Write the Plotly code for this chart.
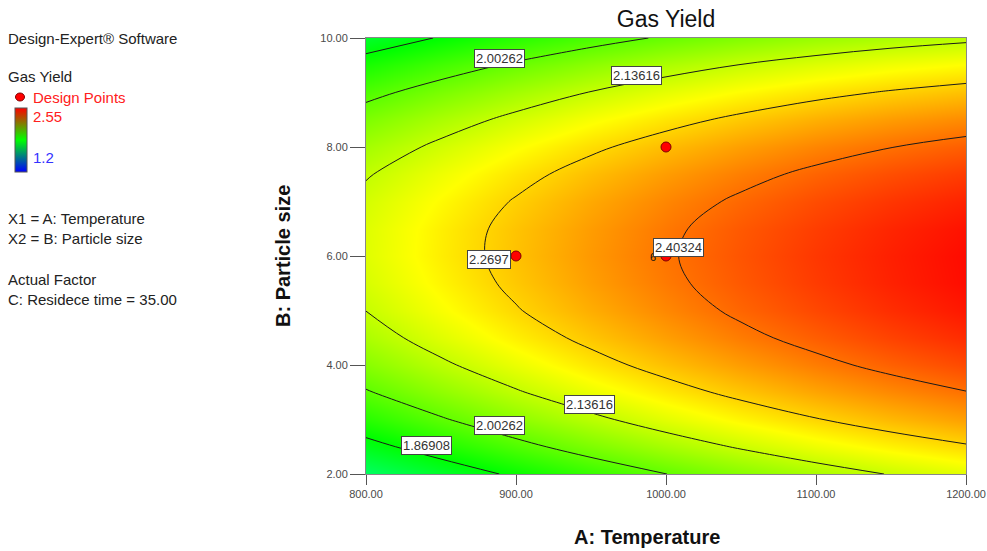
import plotly.graph_objects as go

# ---------------- data ----------------
temperature = [800, 850, 900, 950, 1000, 1050, 1100, 1150, 1200]
particle_size = [2.0, 2.5, 3.0, 3.5, 4.0, 4.5, 5.0, 5.5, 6.0, 6.5, 7.0, 7.5, 8.0, 8.5, 9.0, 9.5, 10.0]
gas_yield = [
    [1.745, 1.817, 1.884, 1.946, 2.002, 2.053, 2.099, 2.140, 2.175],
    [1.841, 1.912, 1.978, 2.039, 2.094, 2.144, 2.189, 2.228, 2.262],
    [1.925, 1.995, 2.060, 2.119, 2.174, 2.223, 2.266, 2.305, 2.338],
    [1.996, 2.065, 2.129, 2.188, 2.241, 2.289, 2.332, 2.369, 2.401],
    [2.055, 2.123, 2.186, 2.244, 2.296, 2.343, 2.385, 2.422, 2.453],
    [2.102, 2.170, 2.232, 2.288, 2.339, 2.386, 2.426, 2.462, 2.492],
    [2.137, 2.204, 2.265, 2.320, 2.370, 2.416, 2.455, 2.490, 2.519],
    [2.160, 2.225, 2.285, 2.340, 2.389, 2.433, 2.472, 2.506, 2.534],
    [2.171, 2.235, 2.294, 2.348, 2.396, 2.439, 2.477, 2.509, 2.536],
    [2.169, 2.233, 2.291, 2.343, 2.391, 2.433, 2.469, 2.501, 2.527],
    [2.156, 2.218, 2.275, 2.327, 2.373, 2.414, 2.450, 2.480, 2.505],
    [2.130, 2.191, 2.247, 2.298, 2.343, 2.383, 2.418, 2.447, 2.471],
    [2.092, 2.152, 2.207, 2.257, 2.301, 2.340, 2.374, 2.402, 2.426],
    [2.042, 2.101, 2.155, 2.204, 2.247, 2.285, 2.318, 2.345, 2.367],
    [1.980, 2.038, 2.091, 2.139, 2.181, 2.218, 2.250, 2.276, 2.297],
    [1.906, 1.963, 2.015, 2.061, 2.103, 2.139, 2.169, 2.195, 2.215],
    [1.819, 1.875, 1.926, 1.972, 2.012, 2.047, 2.077, 2.101, 2.120],
]
contour_levels = [1.86908, 2.00262, 2.13616, 2.2697, 2.40324]
design_temperature = [900, 1000, 1000]
design_particle_size = [6.0, 8.0, 6.0]
x_ticks = [800, 900, 1000, 1100, 1200]
y_ticks = [2, 4, 6, 8, 10]
z_min, z_max = 1.2, 2.55

# contour-label placement (level index, temperature, particle size)
label_spots = [
    (1, 889, 9.63), (2, 980, 9.32), (3, 882, 5.945), (4, 1008, 6.147),
    (2, 949, 3.284), (1, 889, 2.899), (0, 840, 2.514),
]

# ---------------- figure ----------------
L, R, T, B = 366, 21, 38, 77
W, H = 987, 551
PW, PH = W - L - R, H - T - B


def px(xp):
    return (xp - L) / PW


def py(yp):
    return (H - B - yp) / PH


surface_scale = [[0, "#0000ff"], [0.25, "#00ffff"], [0.5, "#00ff00"], [0.75, "#ffff00"], [1, "#ff0000"]]
legend_scale = [[0, "#0000ff"], [0.5, "#00ff00"], [1, "#ff0000"]]

fig = go.Figure()
fig.add_trace(go.Contour(
    x=temperature, y=particle_size, z=gas_yield,
    zmin=z_min, zmax=z_max, colorscale=surface_scale, showscale=False,
    contours=dict(start=contour_levels[0], end=contour_levels[-1],
                  size=contour_levels[1] - contour_levels[0], coloring="heatmap"),
    line=dict(color="#1a1a1a", width=1, smoothing=1),
    hoverinfo="skip",
))
fig.add_trace(go.Scatter(
    x=design_temperature, y=design_particle_size, mode="markers",
    marker=dict(color="#ff0000", size=10, line=dict(color="#800000", width=1)),
    showlegend=False,
))
# legend colour bar
fig.add_trace(go.Scatter(
    x=[None], y=[None], mode="markers", showlegend=False,
    marker=dict(color=[z_min], cmin=z_min, cmax=z_max, colorscale=legend_scale, showscale=True,
                colorbar=dict(x=px(15), xanchor="left", y=py(140), yanchor="middle",
                              lenmode="pixels", len=64, thickness=12, xpad=0, ypad=0,
                              showticklabels=False, ticks="", outlinecolor="#555555", outlinewidth=1)),
))

tick_font = dict(family="Liberation Sans Narrow, Liberation Sans, Arial", size=11, color="#4a4a4a")
fig.update_xaxes(range=[800, 1200], tickvals=x_ticks, ticktext=["%.2f" % v for v in x_ticks],
                 ticks="outside", ticklen=10, tickcolor="#555555", tickfont=tick_font, automargin=False,
                 showline=True, linecolor="#888888", mirror=True, showgrid=False, zeroline=False)
fig.update_yaxes(range=[2, 10], tickvals=y_ticks, ticktext=["%.2f" % v for v in y_ticks],
                 ticks="outside", ticklen=15, tickcolor="#555555", tickfont=tick_font, automargin=False,
                 showline=True, linecolor="#888888", mirror=True, showgrid=False, zeroline=False)

ann = []
font_txt = "Liberation Sans, Arial"
left_texts = [
    ("Design-Expert® Software", 38, "#222222"),
    ("Gas Yield", 77, "#222222"),
    ("X1 = A: Temperature", 218, "#222222"),
    ("X2 = B: Particle size", 239, "#222222"),
    ("Actual Factor", 279, "#222222"),
    ("C: Residece time = 35.00", 299, "#222222"),
]
for txt, yp, col in left_texts:
    ann.append(dict(text=txt, xref="paper", yref="paper", x=px(6), y=py(yp), xanchor="left",
                    yanchor="middle", showarrow=False, font=dict(family=font_txt, size=15, color=col)))
ann.append(dict(text="Design Points", xref="paper", yref="paper", x=px(31), y=py(97), xanchor="left",
                yanchor="middle", showarrow=False, font=dict(family=font_txt, size=15, color="#ff2020")))
ann.append(dict(text="%.2f" % z_max, xref="paper", yref="paper", x=px(31), y=py(117), xanchor="left",
                yanchor="middle", showarrow=False, font=dict(family=font_txt, size=15, color="#ff2020")))
ann.append(dict(text="%g" % z_min, xref="paper", yref="paper", x=px(31), y=py(157), xanchor="left",
                yanchor="middle", showarrow=False, font=dict(family=font_txt, size=15, color="#3333ff")))

# axis titles
ann.append(dict(text="<b>A: Temperature</b>", xref="paper", yref="paper", x=px(647), y=py(537),
                xanchor="center", yanchor="middle", showarrow=False,
                font=dict(family=font_txt, size=20, color="#111111")))
ann.append(dict(text="<b>B: Particle size</b>", xref="paper", yref="paper", x=px(283), y=py(256),
                xanchor="center", yanchor="middle", showarrow=False, textangle=-90,
                font=dict(family=font_txt, size=20, color="#111111")))

# small replicate count near centre point
ann.append(dict(text="6", x=991, y=5.98, xref="x", yref="y", showarrow=False,
                font=dict(family=font_txt, size=11, color="#111111")))
# contour labels
for idx, xt, yt in label_spots:
    ann.append(dict(text=("%.5f" % contour_levels[idx]).rstrip("0"), x=xt, y=yt, xref="x", yref="y",
                    showarrow=False, bgcolor="white", bordercolor="#444444", borderwidth=1, borderpad=1,
                    font=dict(family=font_txt, size=13, color="#333333")))

shapes = [dict(type="circle", xref="paper", yref="paper", x0=px(15.5), x1=px(24.5), y0=py(101), y1=py(93),
               fillcolor="#ff0000", line=dict(color="#800000", width=1))]

fig.update_layout(
    width=W, height=H, margin=dict(l=L, r=R, t=T, b=B, autoexpand=False),
    paper_bgcolor="white", plot_bgcolor="white",
    title=dict(text="Gas Yield", xref="container", x=666 / W, xanchor="center", y=1 - 19 / H, yanchor="middle",
               font=dict(family=font_txt, size=23, color="#111111")),
    annotations=ann, shapes=shapes, showlegend=False,
)
fig.write_html("out.html")
